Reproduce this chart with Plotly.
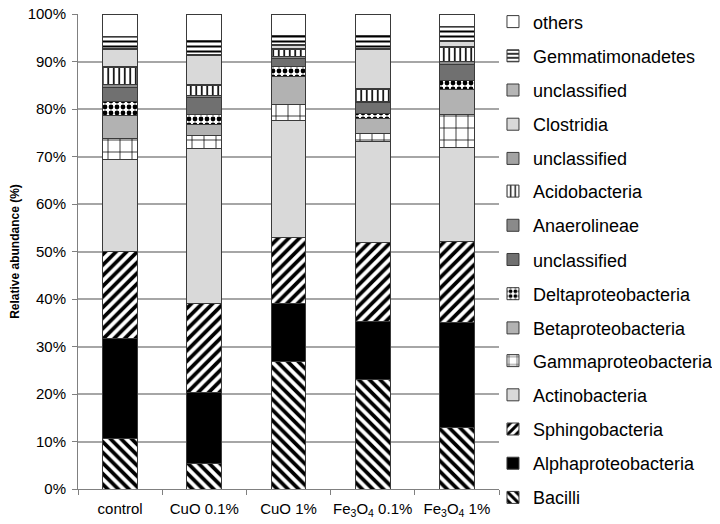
import plotly.graph_objects as go

# sample labels (x axis)
samples = ["control", "CuO 0.1%", "CuO 1%",
           "Fe<sub>3</sub>O<sub>4</sub> 0.1%", "Fe<sub>3</sub>O<sub>4</sub> 1%"]

# relative abundance (%) per taxon, bottom of the stack first
bacilli = [10.7, 5.3, 26.9, 23.1, 12.9]
alphaproteobacteria = [21.0, 15.1, 12.1, 12.2, 22.1]
sphingobacteria = [18.2, 18.6, 14.0, 16.6, 17.2]
actinobacteria = [19.4, 32.7, 24.5, 21.2, 19.7]
gammaproteobacteria = [4.4, 2.7, 3.5, 1.8, 7.0]
betaproteobacteria = [5.0, 2.3, 5.8, 3.0, 5.2]
deltaproteobacteria = [2.8, 2.2, 2.1, 1.2, 2.0]
unclassified_1 = [3.0, 3.5, 1.8, 2.2, 3.2]
anaerolineae = [0.7, 0.4, 0.3, 0.3, 0.7]
acidobacteria = [3.5, 2.1, 1.6, 2.5, 2.9]
unclassified_2 = [0.3, 0.3, 0.2, 0.2, 0.2]
clostridia = [3.5, 6.0, 0.6, 8.3, 1.2]
unclassified_3 = [0.3, 0.3, 0.2, 0.2, 0.2]
gemmatimonadetes = [2.4, 3.0, 1.9, 2.7, 2.8]
others = [4.8, 5.5, 4.5, 4.5, 2.7]

# (name, values, fill colour, pattern shape, pattern size, solidity, legend box)
series = [
    ("Bacilli", bacilli, "white", "\\", 7.5, 0.5, "legend3"),
    ("Alphaproteobacteria", alphaproteobacteria, "black", "", 8, 0.3, "legend3"),
    ("Sphingobacteria", sphingobacteria, "white", "/", 7.5, 0.5, "legend3"),
    ("Actinobacteria", actinobacteria, "#d9d9d9", "", 8, 0.3, "legend3"),
    ("Gammaproteobacteria", gammaproteobacteria, "white", "+", 12, 0.12, "legend3"),
    ("Betaproteobacteria", betaproteobacteria, "#b2b2b2", "", 8, 0.3, "legend2"),
    ("Deltaproteobacteria", deltaproteobacteria, "white", ".", 6, 0.5, "legend2"),
    ("unclassified", unclassified_1, "#707070", "", 8, 0.3, "legend2"),
    ("Anaerolineae", anaerolineae, "#8a8a8a", "", 8, 0.3, "legend2"),
    ("Acidobacteria", acidobacteria, "white", "|", 5.5, 0.3, "legend2"),
    ("unclassified", unclassified_2, "#a3a3a3", "", 8, 0.3, "legend"),
    ("Clostridia", clostridia, "#d9d9d9", "", 8, 0.3, "legend"),
    ("unclassified", unclassified_3, "#b5b5b5", "", 8, 0.3, "legend"),
    ("Gemmatimonadetes", gemmatimonadetes, "white", "-", 5, 0.4, "legend"),
    ("others", others, "white", "", 8, 0.3, "legend"),
]

fig = go.Figure()
for i, (name, vals, color, shape, size, solid, leg) in enumerate(series):
    fig.add_trace(go.Bar(
        x=samples, y=vals, name=name,
        legend=leg, legendgroup=f"g{i}", legendrank=1000 - i,
        marker=dict(
            color=color,
            line=dict(color="#3a3a3a", width=1),
            pattern=dict(shape=shape, fgcolor="black", bgcolor=color, fgopacity=1,
                         size=size, solidity=solid, fillmode="replace"),
        ),
    ))

legend_style = dict(
    xanchor="left", yanchor="top", x=0.9857,
    traceorder="grouped", tracegroupgap=7.8,
    font=dict(size=18), itemwidth=30, bgcolor="rgba(0,0,0,0)",
)

fig.update_layout(
    barmode="stack",
    bargap=0.585,
    width=712, height=516,
    margin=dict(l=70, r=221, t=6, b=35, autoexpand=False),
    plot_bgcolor="white",
    paper_bgcolor="white",
    font=dict(family="Liberation Sans, Arial, sans-serif", color="black", size=15),
    legend=dict(legend_style, y=1.0223),
    legend2=dict(legend_style, y=0.6655),
    legend3=dict(legend_style, y=0.3086),
    xaxis=dict(
        showline=True, linecolor="#808080", linewidth=1,
        ticks="outside", tickson="boundaries", ticklen=5, tickcolor="#808080",
        tickfont=dict(size=15), tickangle=0, ticklabelstandoff=6,
    ),
    yaxis=dict(
        range=[0, 100], dtick=10, ticksuffix="%",
        showline=True, linecolor="#808080", linewidth=1,
        ticks="outside", ticklen=5, tickcolor="#808080",
        showgrid=True, gridcolor="#a6a6a6", gridwidth=1.5,
        title=dict(text="<b>Relative abundance (%)</b>", font=dict(size=12), standoff=15),
        tickfont=dict(size=15), ticklabeloverflow="allow", ticklabelstandoff=3,
    ),
)

fig.write_html("out.html")
